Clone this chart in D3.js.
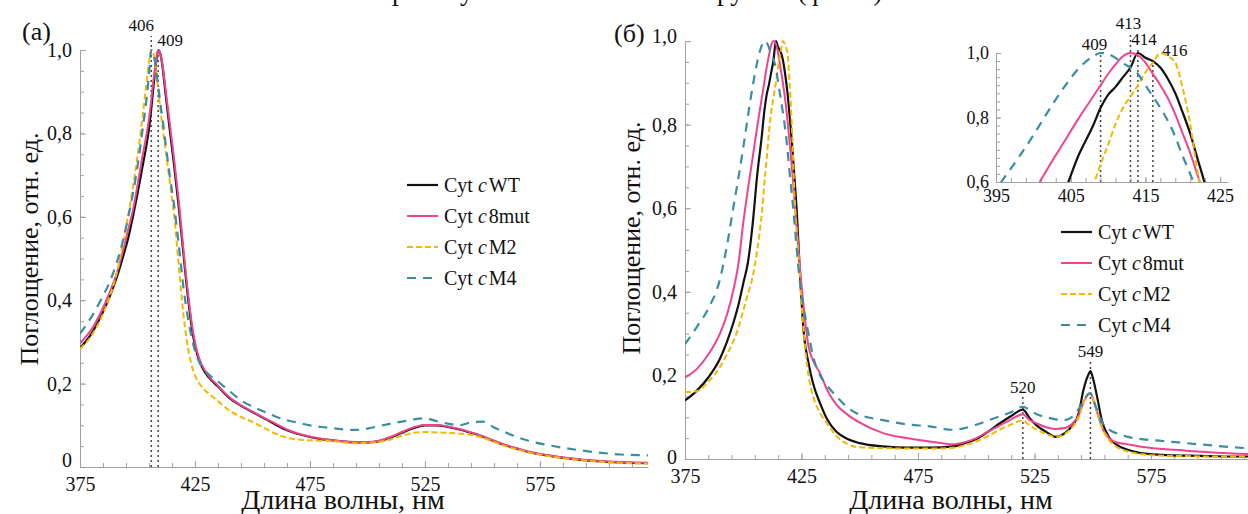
<!DOCTYPE html>
<meta charset="utf-8">
<style>
body { margin: 0; background: #fff; }
svg { background: #fff; }
.axis path, .axis line { stroke: #a0a0a0; stroke-width: 1; }
.peak { stroke: #444; stroke-width: 1.5; stroke-dasharray: 2,3; fill: none; }
</style>
<svg width="1248" height="514"></svg>
<script src="https://d3js.org/d3.v7.min.js"></script>
<script>

var serif = "'Liberation Serif', 'DejaVu Serif', serif";

// series
var seriesNames = ["WT", "8mut", "M2", "M4"];
var seriesColors = ["#111111", "#f0438e", "#f3b800", "#3b8ea2"];
var seriesDash = [null, null, "6,3", "9,7"];
var seriesWidth = [2.2, 2, 2, 2.2];

// panel (a)
var wlA = [375,380,384,388,391,394,396,398,400,402, 404,405,406,407,408,409,410,411,412,414,
           416,418,420,422,424,426,428,431,435,440, 445,450,455,460,465,470,475,480,485,490,
           495,500,505,510,515,520,525,530,535,540, 545,550,555,560,565,570,580,590,600,610, 622];
var wtA = [.285,.32,.36,.41,.455,.51,.55,.6,.655,.715, .775,.81,.86,.915,.965,1.0,.99,.955,.905,.81,
           .72,.62,.51,.405,.32,.27,.24,.215,.193,.165, .147,.132,.117,.102,.088,.079,.072,.067,.064,.061,
           .059,.059,.062,.07,.082,.093,.1,.1,.096,.09, .082,.073,.062,.052,.044,.036,.026,.019,.014,.011, .009];
var mutA = [.297,.33,.37,.42,.465,.525,.57,.615,.675,.74, .8,.835,.88,.93,.97,1.0,.99,.96,.915,.825,
            .735,.635,.52,.415,.33,.275,.245,.218,.195,.167, .148,.133,.118,.104,.09,.08,.073,.068,.064,.061,
            .06,.06,.063,.072,.084,.095,.101,.101,.097,.091, .083,.074,.063,.053,.045,.037,.027,.02,.015,.012, .01];
var m2A = [.283,.315,.355,.41,.465,.545,.605,.67,.745,.83, .925,.97,1.0,.99,.955,.905,.855,.81,.77,.685,
           .6,.48,.365,.285,.235,.208,.192,.176,.158,.135, .12,.108,.094,.08,.07,.066,.064,.063,.062,.059,
           .057,.058,.06,.066,.075,.082,.084,.083,.082,.08, .077,.07,.06,.05,.042,.035,.025,.018,.013,.01, .008];
var m4A = [.32,.36,.4,.445,.49,.55,.6,.655,.72,.8, .885,.94,1.0,.99,.955,.915,.87,.83,.785,.7,
           .625,.53,.43,.355,.3,.262,.24,.222,.205,.182, .16,.145,.133,.121,.112,.106,.1,.096,.093,.09,
           .089,.092,.098,.104,.109,.114,.117,.11,.104,.1, .107,.109,.095,.083,.072,.063,.051,.042,.035,.03, .028];
var peaksA = [406, 409];

// panel (b)
var wlB = [375,380,385,390,393,396,398,400,402,404, 406,408,409,410,411,412,413,414,415,416,
           417,418,419,420,421,422,423,424,426,428, 430,433,436,440,445,450,460,470,480,490,
           495,500,505,510,515,520,523,526,530,534, 538,541,544,546,548,549,550,552,554,557,
           560,565,570,580,590,600,610,620];
var wtB = [.14,.163,.195,.24,.28,.33,.37,.42,.47,.56, .68,.775,.83,.87,.895,.925,.955,1.0,.985,.975,
           .955,.92,.875,.815,.75,.67,.59,.48,.3,.23, .18,.133,.095,.065,.047,.038,.03,.027,.027,.03,
           .038,.048,.065,.085,.103,.118,.097,.08,.065,.053, .062,.078,.11,.165,.2,.21,.195,.145,.09,.052,
           .035,.022,.015,.01,.008,.007,.006,.006];
var mutB = [.195,.215,.25,.3,.345,.41,.47,.565,.645,.72, .795,.865,.9,.935,.965,.99,1.0,.993,.97,.935,
            .9,.86,.81,.75,.69,.62,.55,.48,.36,.27, .235,.205,.165,.13,.105,.087,.062,.05,.042,.035,
            .04,.05,.065,.08,.095,.107,.093,.085,.076,.072, .074,.083,.105,.135,.155,.158,.146,.11,.075,.05,
            .04,.035,.03,.024,.02,.016,.013,.012];
var m2B = [.16,.162,.185,.22,.25,.285,.315,.355,.395,.435, .5,.59,.655,.715,.78,.83,.865,.9,.94,.97,
           1.0,.99,.97,.89,.78,.63,.54,.46,.3,.2, .15,.11,.085,.055,.035,.028,.026,.025,.025,.027,
           .033,.042,.055,.07,.083,.092,.08,.07,.06,.053, .06,.075,.1,.135,.155,.157,.145,.11,.075,.045,
           .03,.018,.012,.008,.007,.006,.006,.006];
var m4B = [.275,.315,.36,.43,.51,.61,.675,.745,.82,.89, .95,.99,1.0,.997,.985,.968,.955,.935,.9,.865,
           .83,.79,.74,.68,.625,.565,.5,.44,.36,.3, .245,.2,.175,.15,.122,.106,.093,.083,.078,.07,
           .074,.082,.092,.102,.112,.125,.117,.107,.1,.095, .093,.1,.12,.138,.155,.157,.145,.115,.088,.07,
           .062,.053,.048,.043,.038,.033,.028,.025];
var peaksB = [520, 549];
var peaksInset = [409, 413, 414, 416];
var insetLabelDx = [-6, -2, 6, 22];
var insetLabelY = [50, 29, 45, 56];

var yTicks = [0, 0.2, 0.4, 0.6, 0.8, 1.0];
var xTicks = [375, 425, 475, 525, 575];

var svg = d3.select("svg");

function fmt(d) { return d === 0 ? "0" : d3.format(".1f")(d).replace(".", ","); }

function label(x, y, txt, size, anchor) {
  return svg.append("text")
    .attr("x", x).attr("y", y)
    .attr("text-anchor", anchor || "start")
    .style("font-family", serif)
    .style("font-size", size + "px")
    .style("fill", "#111")
    .text(txt);
}

function styleAxis(g, size) {
  g.attr("font-family", null).attr("font-size", null);
  g.selectAll("text").style("font-family", serif).style("font-size", size + "px").style("fill", "#111");
}

function drawAxes(x, y, xMajor, xMinor, yMajor, yMinor, yBase) {
  var gx = svg.append("g").attr("class", "axis").attr("transform", "translate(0," + y(yBase) + ")");
  gx.call(d3.axisBottom(x).tickValues(xMinor).tickSize(-4).tickSizeOuter(0).tickFormat(""));
  gx.append("g").call(d3.axisBottom(x).tickValues(xMajor).tickSize(-6).tickSizeOuter(0).tickPadding(10))
    .select(".domain").remove();
  var gy = svg.append("g").attr("class", "axis").attr("transform", "translate(" + x.range()[0] + ",0)");
  gy.call(d3.axisLeft(y).tickValues(yMinor).tickSize(-4).tickSizeOuter(0).tickFormat(""));
  gy.append("g").call(d3.axisLeft(y).tickValues(yMajor).tickSize(-6).tickSizeOuter(0).tickPadding(8).tickFormat(fmt))
    .select(".domain").remove();
  styleAxis(gx, 20); styleAxis(gx.select("g"), 20);
  styleAxis(gy, 20); styleAxis(gy.select("g"), 20);
  return gy;
}

function drawSeries(x, y, wl, data, clip) {
  var line = d3.line()
      .x(function(d, i) { return x(wl[i]); })
      .y(function(d) { return y(d); })
      .curve(d3.curveMonotoneX);
  svg.append("g").attr("clip-path", "url(#" + clip + ")")
    .selectAll("path")
    .data(data)
    .enter().append("path")
      .attr("d", line)
      .attr("fill", "none")
      .attr("stroke", function(d, i) { return seriesColors[i]; })
      .attr("stroke-width", function(d, i) { return seriesWidth[i]; })
      .attr("stroke-dasharray", function(d, i) { return seriesDash[i]; });
}

function addClip(id, x0, y0, w, h) {
  svg.append("clipPath").attr("id", id).append("rect")
    .attr("x", x0).attr("y", y0).attr("width", w).attr("height", h);
}

function drawLegend(x0, y0, dy) {
  var g = svg.append("g");
  var row = g.selectAll("g").data(seriesNames).enter().append("g")
    .attr("transform", function(d, i) { return "translate(" + x0 + "," + (y0 + i * dy) + ")"; });
  row.append("line").attr("x1", 0).attr("x2", 31)
    .attr("stroke", function(d, i) { return seriesColors[i]; })
    .attr("stroke-width", function(d, i) { return seriesWidth[i]; })
    .attr("stroke-dasharray", function(d, i) { return seriesDash[i]; });
  var t = row.append("text").attr("x", 37).attr("dy", "0.35em")
    .style("font-family", serif).style("font-size", "20px").style("fill", "#111");
  t.append("tspan").text("Cyt ");
  t.append("tspan").style("font-style", "italic").text("c");
  t.append("tspan").attr("dx", 2).text(function(d) { return d; });
}

function valMax(wl, data, w) {
  var i = wl.indexOf(w);
  return d3.max(data, function(s) { return s[i]; });
}

// cut-off line of body text above the figure
label(392, 0, "р", 27);
label(460, 0, "у", 27);
label(706, 0, "группы (фиг. 3)", 27);

// ---------- panel (a)
var xA = d3.scaleLinear().domain([375, 622]).range([80, 648]);
var yA = d3.scaleLinear().domain([0, 1]).range([467, 50]);
addClip("clipA", 80, 0, 568, 467);

peaksA.forEach(function(p, i) {
  svg.append("line").attr("class", "peak")
    .attr("x1", xA(p)).attr("x2", xA(p))
    .attr("y1", yA(0)).attr("y2", i === 0 ? yA(1) - 14 : yA(1) + 1);
});
label(xA(peaksA[0]) - 10, 31, peaksA[0], 17, "middle");
label(xA(peaksA[1]) + 12, 46, peaksA[1], 17, "middle");

var gyA = drawAxes(xA, yA, xTicks, d3.range(375, 623, 10), yTicks, d3.range(0, 1.001, 0.05), 0);
gyA.selectAll(".tick text").filter(function(d) { return d === 0; }).attr("dy", "-0.05em");
drawSeries(xA, yA, wlA, [wtA, mutA, m2A, m4A], "clipA");

label(22, 40, "(a)", 26);
label(0, 0, "Поглощение, отн. ед.", 26, "middle")
  .attr("transform", "translate(29,249) rotate(-90)").attr("dy", "0.35em");
label(343, 509, "Длина волны, нм", 28, "middle");
drawLegend(407, 185, 31);

// ---------- panel (b)
var xB = d3.scaleLinear().domain([375, 620]).range([685, 685 + 2.33 * 245]);
var yB = d3.scaleLinear().domain([0, 1]).range([459, 41]);
addClip("clipB", 685, 0, 600, 459);

var dataB = [wtB, mutB, m2B, m4B];
peaksB.forEach(function(p) {
  var top = yB(valMax(wlB, dataB, p)) - 10;
  svg.append("line").attr("class", "peak")
    .attr("x1", xB(p)).attr("x2", xB(p)).attr("y1", yB(0)).attr("y2", top);
  label(xB(p), top - 4, p, 17, "middle");
});

var gyB = drawAxes(xB, yB, xTicks, d3.range(375, 621, 10), yTicks, d3.range(0, 1.001, 0.05), 0);
gyB.selectAll(".tick text").attr("dy", function(d) { return d === 0 ? "0.2em" : d === 1 ? "0.05em" : "0.32em"; });
drawSeries(xB, yB, wlB, dataB, "clipB");

label(614, 42, "(б)", 26);
label(0, 0, "Поглощение, отн. ед.", 26, "middle")
  .attr("transform", "translate(631,238) rotate(-90)").attr("dy", "0.35em");
label(951, 509, "Длина волны, нм", 28, "middle");
drawLegend(1061, 232, 31);

// ---------- inset
var xI = d3.scaleLinear().domain([395, 426]).range([996, 996 + 7.47 * 31]);
var yI = d3.scaleLinear().domain([0.6, 1]).range([182, 53]);
addClip("clipI", 996, 30, 232, 152);

peaksInset.forEach(function(p, i) {
  svg.append("line").attr("class", "peak")
    .attr("x1", xI(p)).attr("x2", xI(p)).attr("y1", yI(0.6)).attr("y2", insetLabelY[i] + 3);
  label(xI(p) + insetLabelDx[i], insetLabelY[i], p, 17, "middle");
});

var gxI = svg.append("g").attr("class", "axis").attr("transform", "translate(0," + yI(0.6) + ")");
gxI.call(d3.axisBottom(xI).tickValues(d3.range(395, 427, 2)).tickSize(-4).tickSizeOuter(0).tickFormat(""));
gxI.append("g").call(d3.axisBottom(xI).tickValues([395, 405, 415, 425]).tickSize(-5).tickSizeOuter(0).tickPadding(7))
  .select(".domain").remove();
var gyI = svg.append("g").attr("class", "axis").attr("transform", "translate(" + xI(395) + ",0)");
gyI.call(d3.axisLeft(yI).tickValues(d3.range(0.6, 1.001, 0.025)).tickSize(-4).tickSizeOuter(0).tickFormat(""));
gyI.append("g").call(d3.axisLeft(yI).tickValues([0.6, 0.8, 1.0]).tickSize(-5).tickSizeOuter(0).tickPadding(7).tickFormat(fmt))
  .select(".domain").remove();
styleAxis(gxI, 18); styleAxis(gxI.select("g"), 18);
styleAxis(gyI, 18); styleAxis(gyI.select("g"), 18);
drawSeries(xI, yI, wlB, dataB, "clipI");

</script>
